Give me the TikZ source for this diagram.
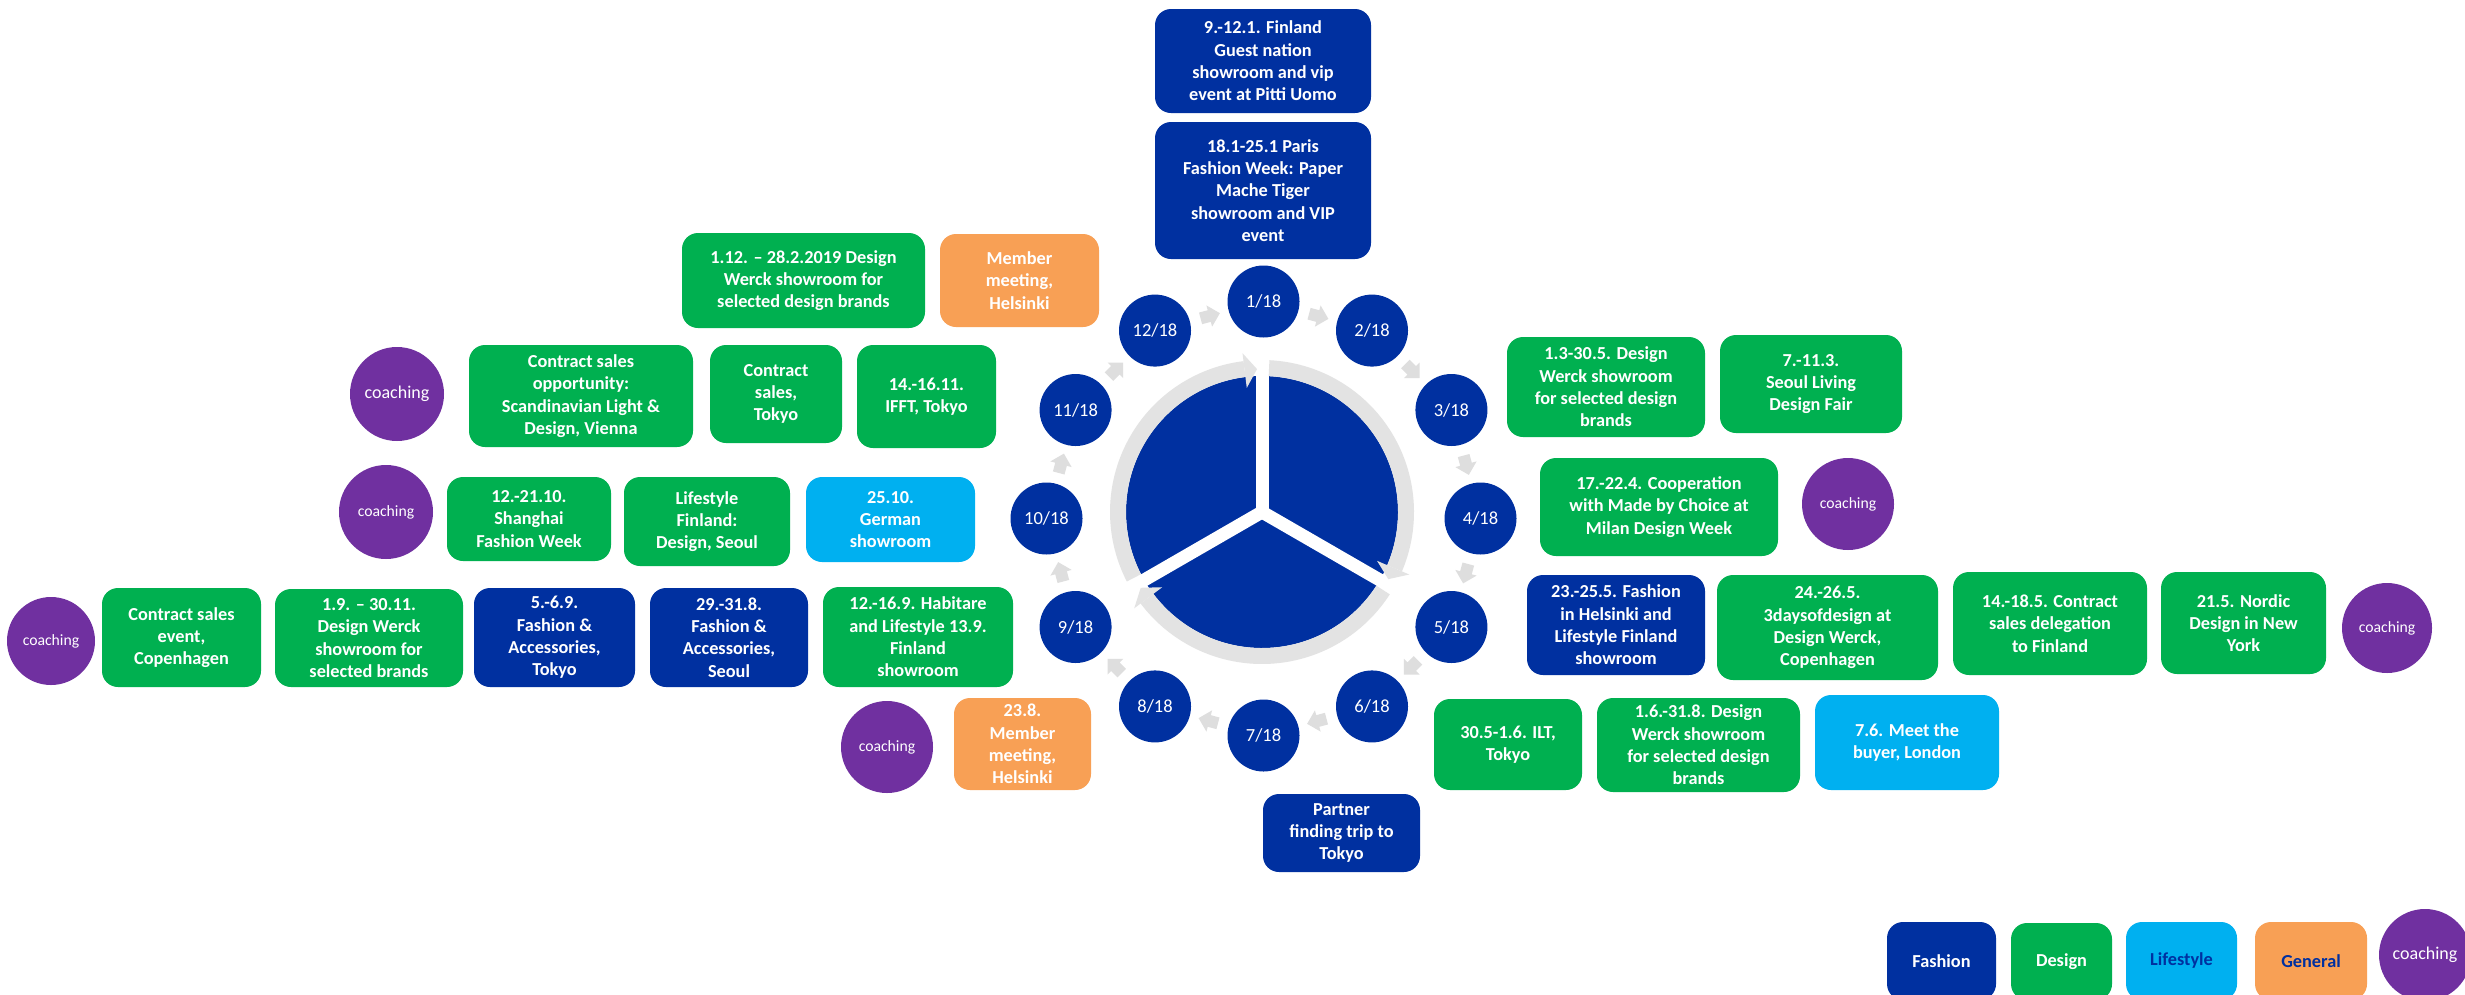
\documentclass[tikz,border=0pt]{standalone}
\usepackage{fontspec}
\setmainfont{Carlito}
\usetikzlibrary{calc}
\definecolor{fashion}{RGB}{0,48,160}
\definecolor{design}{RGB}{0,176,80}
\definecolor{lifestyle}{RGB}{0,176,240}
\definecolor{general}{RGB}{248,160,85}
\definecolor{coach}{RGB}{112,48,160}
\definecolor{band}{RGB}{227,227,227}
\definecolor{chev}{RGB}{222,222,222}
\tikzset{
  evbox/.style={rounded corners=16pt, inner sep=0pt, align=center, text=white,
    font=\bfseries\fontsize{18.3}{22.3}\selectfont},
  fashionbox/.style={evbox, fill=fashion},
  designbox/.style={evbox, fill=design},
  lifebox/.style={evbox, fill=lifestyle},
  genbox/.style={evbox, fill=general},
  monthc/.style={circle, fill=fashion, minimum size=72pt, inner sep=0pt, text=white,
    font=\fontsize{18.5}{22}\selectfont},
  coachc/.style={circle, fill=coach, inner sep=0pt, text=white,
    font=\fontsize{15.7}{19}\selectfont},
  chevron/.pic={\fill[chev] (-9pt,-6pt) -- (0pt,-6pt) -- (0pt,-11pt) -- (11pt,0pt)
    -- (0pt,11pt) -- (0pt,6pt) -- (-9pt,6pt) -- cycle;}
}
\newcommand\EvBox[7]{\node[#2, minimum width={(#5-#3)*1pt}, minimum height={(#6-#4)*1pt}]
  (#1) at ({(#3+#5)/2},{(#4+#6)/2}) {#7};}
\begin{document}
\begin{tikzpicture}[x=1pt,y=-1pt]
\useasboundingbox (0,0) rectangle (2465,994);
\fill[white] (0,0) rectangle (2465,994);
\clip (0,0) rectangle (2465,994);

% month circles
\foreach \k in {1,...,12}{
  \pgfmathsetmacro\ang{90-30*(\k-1)}
  \node[monthc] (c\k) at ({1263.5+217*cos(\ang)},{518.5-217*sin(\ang)}) {\k/18};
}
% chevrons between circles
\foreach \k in {1,...,12}{
  \pgfmathtruncatemacro\n{mod(\k,12)+1}
  \pgfmathsetmacro\rot{90-30*(\k-1)-15-90}
  \path ($(c\k)!0.5!(c\n)$) pic[rotate=\rot] {chevron};
}

% central cycle
\coordinate (P) at (1262,512);
\fill[fashion] (P) circle[radius=136pt];
\foreach \a in {90,-30,210}
  \draw[white, line width=13pt] (P) -- ([shift={(\a:137pt)}]P);
\foreach \s/\e/\t in {207.2/97/92, 87.2/-23/-28, -32.8/-143/-148}{
  \fill[band] ([shift={(\s:152pt)}]P) arc[start angle=\s, end angle=\e, radius=152pt]
    -- ([shift={(\e:136pt)}]P) arc[start angle=\e, end angle=\s, radius=136pt] -- cycle;
  \fill[band] ([shift={(\e:160pt)}]P) -- ([shift={(\t:143pt)}]P) -- ([shift={(\e:125pt)}]P) -- cycle;
}

% top
\EvBox{t1}{fashionbox}{1155}{9}{1371}{113}{9.-12.1. Finland\\Guest nation\\showroom and vip\\event at Pitti Uomo}
\EvBox{t2}{fashionbox}{1155}{122}{1371}{259}{18.1-25.1 Paris\\Fashion Week: Paper\\Mache Tiger\\showroom and VIP\\event}

% left
\EvBox{l1}{designbox}{682}{233}{925}{328}{1.12. – 28.2.2019 Design\\Werck showroom for\\selected design brands}
\EvBox{l2}{genbox}{940}{234}{1099}{327}{Member\\meeting,\\Helsinki}
\node[coachc, minimum size=94pt, font=\fontsize{18}{21}\selectfont] (k1) at (397,394) {coaching};
\EvBox{l3}{designbox}{469}{345}{693}{447}{Contract sales\\opportunity:\\Scandinavian Light \&\\Design, Vienna}
\EvBox{l4}{designbox}{710}{345}{842}{443}{Contract\\sales,\\Tokyo}
\EvBox{l5}{designbox}{857}{345}{996}{448}{14.-16.11.\\IFFT, Tokyo}
\node[coachc, minimum size=94pt] (k2) at (386,512) {coaching};
\EvBox{l6}{designbox}{447}{477}{611}{561}{12.-21.10.\\Shanghai\\Fashion Week}
\EvBox{l7}{designbox}{624}{477}{790}{566}{Lifestyle\\Finland:\\Design, Seoul}
\EvBox{l8}{lifebox}{806}{477}{975}{562}{25.10.\\German\\showroom}
\node[coachc, minimum size=88pt] (k3) at (51,641) {coaching};
\EvBox{l9}{designbox}{102}{588}{261}{687}{Contract sales\\event,\\Copenhagen}
\EvBox{l10}{designbox}{275}{589}{463}{687}{1.9. – 30.11.\\Design Werck\\showroom for\\selected brands}
\EvBox{l11}{fashionbox}{474}{588}{635}{687}{5.-6.9.\\Fashion \&\\Accessories,\\Tokyo}
\EvBox{l12}{fashionbox}{650}{588}{808}{687}{29.-31.8.\\Fashion \&\\Accessories,\\Seoul}
\EvBox{l13}{designbox}{823}{587}{1013}{687}{12.-16.9. Habitare\\and Lifestyle 13.9.\\Finland\\showroom}
\node[coachc, minimum size=92pt] (k4) at (887,747) {coaching};
\EvBox{l14}{genbox}{954}{698}{1091}{790}{23.8.\\Member\\meeting,\\Helsinki}

% right
\EvBox{r1}{designbox}{1507}{337}{1705}{437}{1.3-30.5. Design\\Werck showroom\\for selected design\\brands}
\EvBox{r2}{designbox}{1720}{335}{1902}{433}{7.-11.3.\\Seoul Living\\Design Fair}
\EvBox{r3}{designbox}{1540}{458}{1778}{556}{17.-22.4. Cooperation\\with Made by Choice at\\Milan Design Week}
\node[coachc, minimum size=92pt] (k5) at (1848,504) {coaching};
\EvBox{r4}{fashionbox}{1527}{575}{1705}{675}{23.-25.5. Fashion\\in Helsinki and\\Lifestyle Finland\\showroom}
\EvBox{r5}{designbox}{1717}{575}{1938}{680}{24.-26.5.\\3daysofdesign at\\Design Werck,\\Copenhagen}
\EvBox{r6}{designbox}{1953}{572}{2147}{675}{14.-18.5. Contract\\sales delegation\\to Finland}
\EvBox{r7}{designbox}{2161}{572}{2326}{674}{21.5. Nordic\\Design in New\\York}
\node[coachc, minimum size=90pt] (k6) at (2387,628) {coaching};
\EvBox{r8}{designbox}{1434}{699}{1582}{790}{30.5-1.6. ILT,\\Tokyo}
\EvBox{r9}{designbox}{1597}{698}{1800}{792}{1.6.-31.8. Design\\Werck showroom\\for selected design\\brands}
\EvBox{r10}{lifebox}{1815}{695}{1999}{790}{7.6. Meet the\\buyer, London}
\EvBox{b1}{fashionbox}{1263}{794}{1420}{872}{Partner\\finding trip to\\Tokyo}

% legend
\EvBox{g1}{fashionbox}{1887}{922}{1996}{1000}{Fashion}
\EvBox{g2}{designbox}{2011}{923}{2112}{1000}{Design}
\EvBox{g3}{lifebox, text=fashion}{2126}{922}{2237}{1000}{Lifestyle}
\EvBox{g4}{genbox, text=fashion}{2255}{922}{2367}{1000}{General}
\node[coachc, minimum size=92pt, font=\fontsize{18}{21}\selectfont] (k7) at (2425,955) {coaching};
\end{tikzpicture}
\end{document}
